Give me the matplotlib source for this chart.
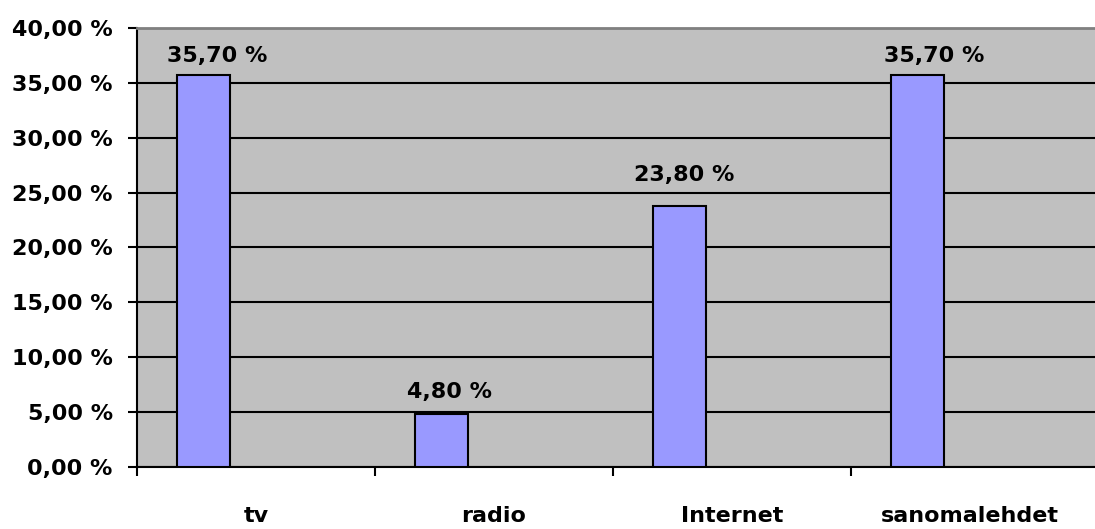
import matplotlib.pyplot as plt
from matplotlib.ticker import FuncFormatter
import numpy as np

categories = ['tv', 'radio', 'Internet', 'sanomalehdet']
values = [35.7, 4.8, 23.8, 35.7]
y_ticks = [0, 5, 10, 15, 20, 25, 30, 35, 40]

# hand-placed value labels: offsets from the bar top centre, in points
label_dx = [10.4, 6.1, 3.6, 12.2]
label_dy = [9.4, 11.5, 18.0, 9.4]

plt.rcParams['font.family'] = 'DejaVu Sans'
plt.rcParams['font.weight'] = 'bold'

fig = plt.figure(figsize=(10.95, 5.29), dpi=100)
ax = fig.add_axes([137 / 1095, 62 / 529, 958 / 1095, 439 / 529])
ax.set_facecolor('#C0C0C0')

# bars sit in the left part of each category slot (first of three series slots)
x = np.arange(len(categories))
bar_w = 0.222
bars = ax.bar(x + 0.278, values, width=bar_w, color='#9999FF',
              edgecolor='black', linewidth=1.5, zorder=3)

for b, v, dx, dy in zip(bars, values, label_dx, label_dy):
    ax.annotate(f'{v:.2f} %'.replace('.', ','),
                (b.get_x() + b.get_width() / 2, v),
                xytext=(dx, dy), textcoords='offset points',
                ha='center', va='baseline', fontsize=16, fontweight='bold')

ax.set_ylim(0, 40)
ax.set_yticks(y_ticks)
ax.yaxis.set_major_formatter(FuncFormatter(lambda v, p: f'{v:.2f} %'.replace('.', ',')))
ax.grid(axis='y', color='black', linewidth=1.5, zorder=1)
ax.set_axisbelow(True)

# category boundaries get ticks, names sit in the middle of each slot
ax.set_xlim(0, 958 / 238)
ax.set_xticks(x)
ax.set_xticklabels([])
ax.set_xticks(x + 0.5, minor=True)
ax.set_xticklabels(categories, minor=True)
ax.tick_params(axis='x', which='minor', length=0, pad=28, labelsize=16)
ax.tick_params(axis='x', which='major', length=6.5, width=1.5, direction='out')
ax.tick_params(axis='y', length=6.5, width=1.5, direction='out', pad=11, labelsize=16)

for lbl in ax.get_xticklabels(minor=True) + ax.get_yticklabels():
    lbl.set_fontweight('bold')

ax.spines['left'].set_linewidth(1.5)
ax.spines['bottom'].set_linewidth(1.5)
ax.spines['top'].set_color('#808080')
ax.spines['top'].set_linewidth(2)
ax.spines['right'].set_visible(False)

fig.savefig('out.png', dpi=100)
